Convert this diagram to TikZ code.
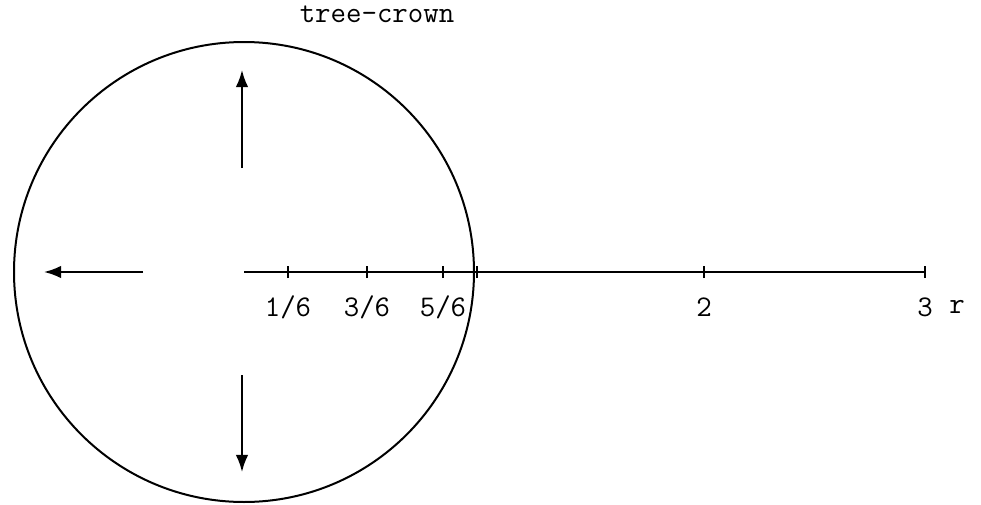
\documentclass[tikz,border=0pt]{standalone}
\usepackage{tikz}
\usetikzlibrary{arrows.meta,positioning}
\begin{document}
\begin{tikzpicture}[
 x=0.5pt,y=-0.5pt,
 lbl/.style={font=\fontsize{15}{18}\selectfont\ttfamily,inner sep=1pt},
 arr/.style={-{Latex[length=3mm,width=2.2mm]},line width=1pt},
 axis/.style={line width=1pt}]
\useasboundingbox (0,0) rectangle (981,504);
\coordinate (o) at (244,272);
\node[draw,line width=1pt,circle,minimum size=230pt,inner sep=0pt] (crown) at (o) {};
\node[lbl] (title) at (377,14) {tree-crown};
% radial axis with ticks
\coordinate (end) at (925,272);
\draw[axis] (o)--(end);
\foreach \n/\x/\t in {a/288/{1/6},b/367/{3/6},c/443/{5/6},d/477/{},e/704/{2},f/925/{3}}{
 \coordinate (t\n) at (\x,272);
 \draw[axis] ([yshift=-3pt]t\n)--([yshift=3pt]t\n);
 \node[lbl] (l\n) at (\x,307) {\t};
}
\node[lbl,right=16pt of lf.center,anchor=center] (r) {r};
% arrows inside the crown
\coordinate (upS) at (242,168); \coordinate (upE) at (242,70);
\coordinate (dnS) at (242,375); \coordinate (dnE) at (242,472);
\coordinate (lfS) at (143,272); \coordinate (lfE) at (44,272);
\draw[arr] (upS)--(upE);
\draw[arr] (dnS)--(dnE);
\draw[arr] (lfS)--(lfE);
\end{tikzpicture}
\end{document}
